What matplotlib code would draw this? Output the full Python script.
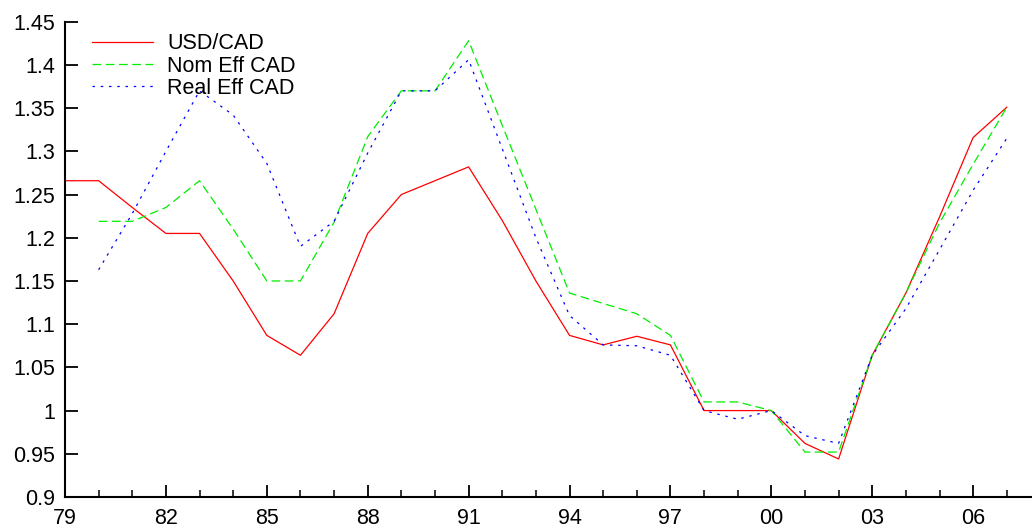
import matplotlib
matplotlib.use("Agg")
import matplotlib.pyplot as plt
from matplotlib.ticker import FixedLocator, MultipleLocator, FuncFormatter

years = list(range(1979, 2008))
usd_cad = [1.266, 1.266, 1.235, 1.205, 1.205, 1.150, 1.087, 1.064, 1.112, 1.205,
           1.250, 1.266, 1.282, 1.220, 1.150, 1.087, 1.076, 1.086, 1.076, 1.000,
           1.000, 1.000, 0.962, 0.944, 1.064, 1.136, 1.224, 1.316, 1.351]
nom_years = list(range(1980, 2008))
nom_eff = [1.219, 1.219, 1.235, 1.266, 1.210, 1.150, 1.150, 1.218, 1.317,
           1.370, 1.370, 1.428, 1.330, 1.233, 1.136, 1.124, 1.112, 1.087, 1.010,
           1.010, 1.000, 0.952, 0.952, 1.064, 1.136, 1.217, 1.285, 1.351]
real_years = list(range(1980, 2008))
real_eff = [1.163, 1.228, 1.300, 1.370, 1.342, 1.286, 1.190, 1.219, 1.298,
            1.370, 1.370, 1.406, 1.303, 1.200, 1.110, 1.076, 1.075, 1.064, 1.000,
            0.990, 1.000, 0.971, 0.962, 1.064, 1.118, 1.186, 1.255, 1.315]
labels = ["USD/CAD", "Nom Eff CAD", "Real Eff CAD"]
xticks = list(range(1979, 2007, 3))
yticks = [0.9, 0.95, 1.0, 1.05, 1.1, 1.15, 1.2, 1.25, 1.3, 1.35, 1.4, 1.45]

plt.rcParams['font.family'] = ['Liberation Sans', 'DejaVu Sans']
fig = plt.figure(figsize=(10.32, 5.29), dpi=100)
ax_w = 1 - 65/1032
ax_h = (497 - 21.7)/529
ax = fig.add_axes([65/1032, 1 - 497/529, ax_w, ax_h])

ax.plot(years, usd_cad, color='#ff0000', lw=0.9, label=labels[0])
ax.plot(nom_years, nom_eff, color='#00ee00', lw=0.9, dashes=(7, 3.6), label=labels[1])
ax.plot(real_years, real_eff, color='#0000ff', lw=0.9, dashes=(2, 4.6), label=labels[2])

ax.set_xlim(1979, 2007.75)
ax.set_ylim(0.9, 1.45)
ax.xaxis.set_major_locator(FixedLocator(xticks))
ax.xaxis.set_minor_locator(MultipleLocator(1))
ax.xaxis.set_major_formatter(FuncFormatter(lambda v, p: "%02d" % (int(round(v)) % 100)))
ax.yaxis.set_major_locator(FixedLocator(yticks))
ax.yaxis.set_major_formatter(FuncFormatter(lambda v, p: "%g" % round(v, 2)))

for s in ['top', 'right']:
    ax.spines[s].set_visible(False)
for s in ['left', 'bottom']:
    ax.spines[s].set_linewidth(1.5)
ax.tick_params(axis='both', which='major', direction='in', length=9, width=1.3,
               labelsize=15.5)
ax.tick_params(axis='x', which='major', pad=8)
ax.tick_params(axis='y', which='major', pad=7)
ax.tick_params(axis='x', which='minor', direction='in', length=5, width=1.1)
ax.tick_params(axis='y', which='minor', left=False)

leg = ax.legend(loc='upper left',
                bbox_to_anchor=(27/967, 1 - (33.5 - 21.7)/475.3),
                frameon=False, fontsize=15.5, handlelength=2.85,
                handletextpad=0.65, labelspacing=0.05, borderpad=0.0,
                borderaxespad=0.0)

fig.savefig("out.png", dpi=100)
